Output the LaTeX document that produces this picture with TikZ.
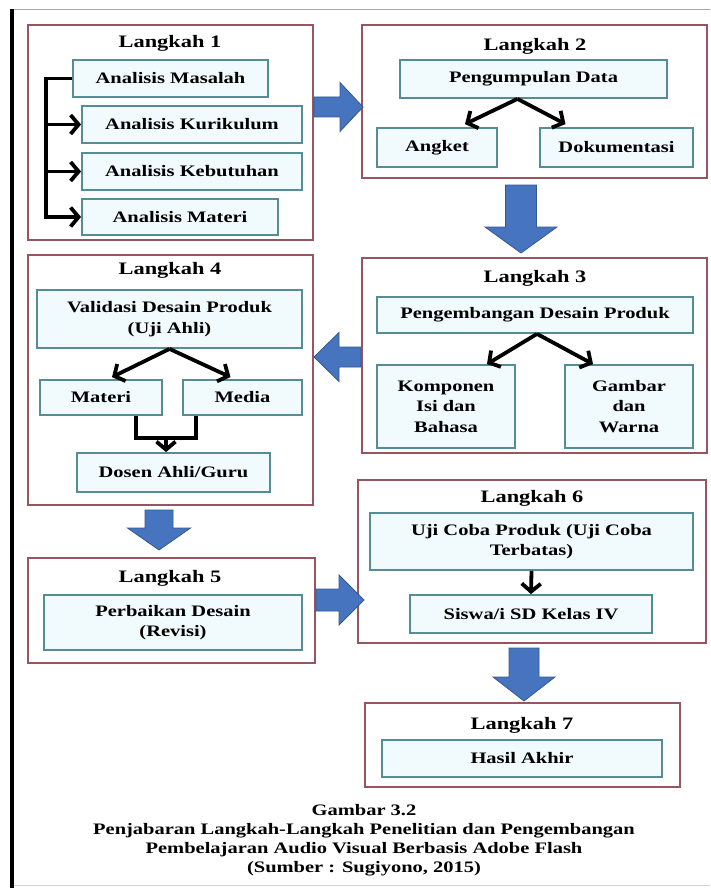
\documentclass[tikz,border=0pt]{standalone}
\usepackage{fontspec}
\setmainfont[FakeStretch=1.28]{Liberation Serif}
\usepackage{tikz}
\usetikzlibrary{arrows.meta,positioning}
\definecolor{stepred}{RGB}{150,85,95}
\definecolor{itemteal}{RGB}{84,142,148}
\definecolor{itemfill}{RGB}{241,250,252}
\definecolor{arrowblue}{RGB}{70,116,190}
\definecolor{arrowedge}{RGB}{52,88,145}

\begin{document}
\begin{tikzpicture}[x=1pt,y=-1pt,
    stepframe/.style={draw=stepred,line width=2pt,fill=white,inner sep=0pt},
    itembox/.style={draw=itemteal,line width=1.8pt,fill=itemfill,inner sep=0pt,align=center,
        font=\fontsize{16}{20.5}\selectfont\bfseries},
    steptitle/.style={inner sep=0pt,font=\fontsize{17.5}{21}\selectfont\bfseries},
    boxsize/.style args={#1x#2}{minimum width=#1,minimum height=#2},
    linkarrow/.style={line width=3.8pt,-{Straight Barb[length=8pt,width=19pt]}},
    fatfill/.style={fill=arrowblue,draw=arrowedge,line width=0.8pt},
    pics/fatarrow/.style args={#1/#2/#3/#4}{code={
        \path[fatfill] (0,-#2) -- (#1,-#2) -- (#1,-#4) -- (#1+#3,0) -- (#1,#4) -- (#1,#2) -- (0,#2) -- cycle;}}]
	\useasboundingbox (0,0) rectangle (710,888);
	\fill[white] (0,0) rectangle (710,888);
	\draw[gray!70,line width=1pt] (12,10) -- (710,10);
	\draw[gray!35,line width=1pt] (12,885) -- (710,885);
	\draw[line width=3.5pt] (12,9) -- (12,888);

	\node[stepframe,boxsize=285x215] (l1) at (170.5,132.5) {};
	\node[stepframe,boxsize=345x153] (l2) at (534.5,101.5) {};
	\node[stepframe,boxsize=345x195] (l3) at (534.5,355.5) {};
	\node[stepframe,boxsize=285x250] (l4) at (170.5,380) {};
	\node[stepframe,boxsize=287x105] (l5) at (171.5,610.5) {};
	\node[stepframe,boxsize=348x163] (l6) at (532,561.5) {};
	\node[stepframe,boxsize=315x84] (l7) at (522.5,745) {};

	\node[steptitle] (t1) at (170,43) {Langkah 1};
	\node[steptitle] (t2) at (535,46) {Langkah 2};
	\node[steptitle] (t3) at (535,278) {Langkah 3};
	\node[steptitle] (t4) at (170,270) {Langkah 4};
	\node[steptitle] (t5) at (170,578) {Langkah 5};
	\node[steptitle] (t6) at (532,498) {Langkah 6};
	\node[steptitle] (t7) at (522,725) {Langkah 7};

	\node[itembox,boxsize=195x37] (masalah) at (170.5,78.5) {Analisis Masalah};
	\node[itembox,boxsize=220x37] (kurikulum) at (192,124.5) {Analisis Kurikulum};
	\node[itembox,boxsize=220x37] (kebutuhan) at (192,171.5) {Analisis Kebutuhan};
	\node[itembox,boxsize=196x36] (materi1) at (180,217) {Analisis Materi};

	\node[itembox,boxsize=267x38] (pengumpulan) at (533.5,79) {Pengumpulan Data};
	\node[itembox,boxsize=120x39] (angket) at (437,147.5) {Angket};
	\node[itembox,boxsize=153x39] (dokumentasi) at (616.5,147.5) {Dokumentasi};

	\node[itembox,boxsize=316x36] (pengembangan) at (535,315) {Pengembangan Desain Produk};
	\node[itembox,boxsize=138x83] (komponen) at (446,406.5) {Komponen\\Isi dan\\Bahasa};
	\node[itembox,boxsize=128x83] (gambar) at (629,406.5) {Gambar\\dan\\Warna};

	\node[itembox,boxsize=265x58] (validasi) at (169.5,319) {Validasi Desain Produk\\(Uji Ahli)};
	\node[itembox,boxsize=122x35] (materi4) at (101,397.5) {Materi};
	\node[itembox,boxsize=119x35] (media) at (242.5,397.5) {Media};
	\node[itembox,boxsize=193x39] (dosen) at (173.5,472.5) {Dosen Ahli/Guru};

	\node[itembox,boxsize=258x55] (perbaikan) at (173,622.5) {Perbaikan Desain\\(Revisi)};

	\node[itembox,boxsize=323x57] (ujicoba) at (531.5,541.5) {Uji Coba Produk (Uji Coba\\Terbatas)};
	\node[itembox,boxsize=242x38] (siswa) at (531,614) {Siswa/i SD Kelas IV};

	\node[itembox,boxsize=280x37] (hasil) at (522,758.5) {Hasil Akhir};

	\draw[linkarrow] (masalah.west) -- ++(-26,0) coordinate (btop) |- (materi1.west);
	\foreach \n in {kurikulum,kebutuhan}
		\draw[linkarrow] (btop |- \n.west) -- (\n.west);

	\draw[linkarrow] ([xshift=-16pt]pengumpulan.south) -- ([xshift=28pt,yshift=3pt]angket.north);
	\draw[linkarrow] ([xshift=-16pt]pengumpulan.south) -- ([xshift=-51pt,yshift=3pt]dokumentasi.north);

	\draw[linkarrow] ([xshift=2pt]pengembangan.south) -- ([xshift=41pt]komponen.north);
	\draw[linkarrow] ([xshift=2pt]pengembangan.south) -- ([xshift=-36pt]gambar.north);

	\draw[linkarrow] (validasi.south) -- ([xshift=11pt,yshift=2pt]materi4.north);
	\draw[linkarrow] (validasi.south) -- ([xshift=-12pt,yshift=2pt]media.north);
	\draw[line width=3.8pt] ([xshift=-27pt]materi4.south east) -- ++(0,22) -| coordinate[pos=0.25] (bmid) ([xshift=14pt]media.south west);
	\draw[linkarrow] (bmid) -- (bmid |- dosen.north);

	\draw[linkarrow] (ujicoba.south) -- (siswa.north);

	\pic at (l1.east |- 0,107) {fatarrow=26/10/23/24.5};
	\pic[rotate=-90] at (521,185) {fatarrow=42/15.5/26/36};
	\pic[rotate=180] at (l3.west |- 0,357) {fatarrow=22/10/25/24.5};
	\pic[rotate=-90] at (159,510) {fatarrow=18/14/22/31.5};
	\pic at (l5.east |- 0,600) {fatarrow=23/11/25/25};
	\pic[rotate=-90] at (524,648) {fatarrow=29/15/24/31};

	\node[align=center,font=\fontsize{16}{19}\selectfont\bfseries] (caption) at (364,840.5)
		{Gambar 3.2\\Penjabaran Langkah-Langkah Penelitian dan Pengembangan\\Pembelajaran Audio Visual Berbasis Adobe Flash\\(Sumber : Sugiyono, 2015)};
\end{tikzpicture}
\end{document}
